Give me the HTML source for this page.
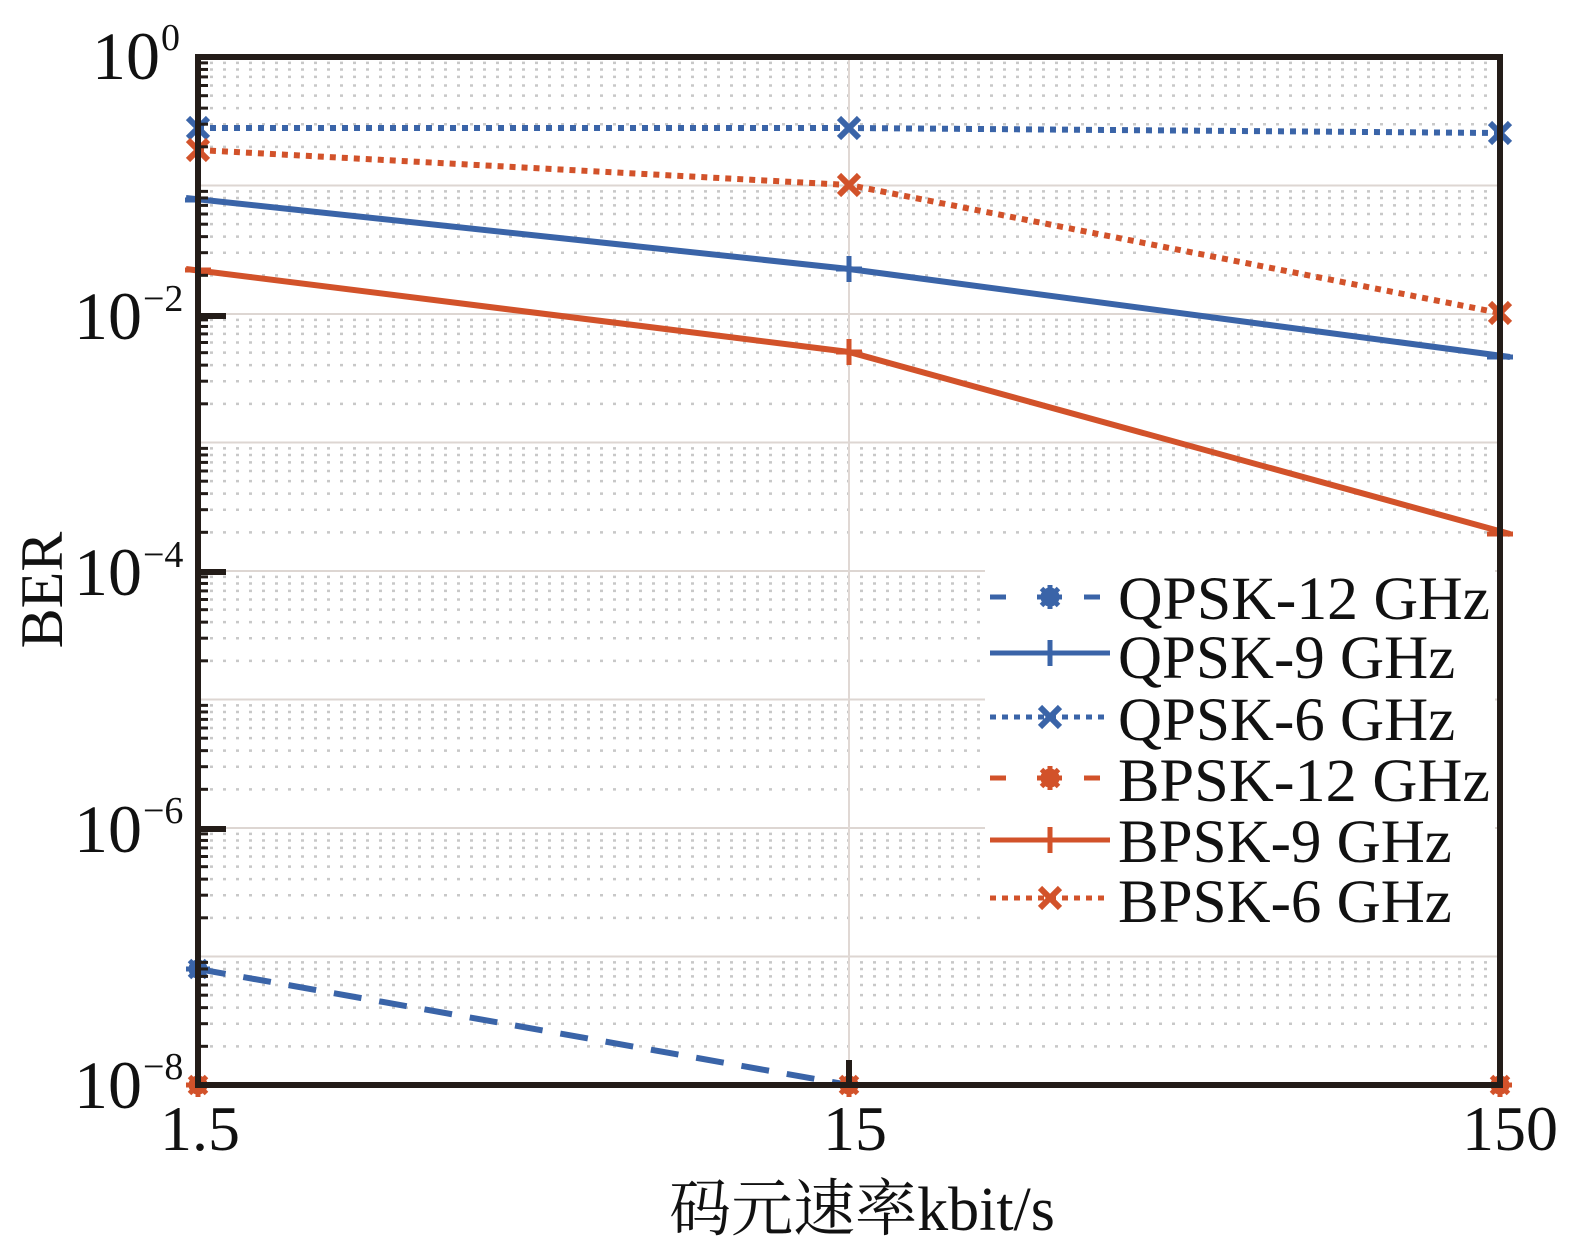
<!DOCTYPE html>
<html><head><meta charset="utf-8"><style>
html,body{margin:0;padding:0;background:#fff}
svg{display:block}
text{font-family:"Liberation Serif","Noto Serif CJK SC",serif;fill:#111}
</style></head><body>
<svg id="s" width="1590" height="1256" viewBox="0 0 1590 1256" xmlns="http://www.w3.org/2000/svg">
<defs>
<g id="ast"><circle r="9"/><path d="M-12 0H12M0 -12V12M-8.5 -8.5L8.5 8.5M-8.5 8.5L8.5 -8.5" stroke-width="5"/></g>
<g id="plus"><path d="M-13 0H13M0 -13V13" stroke-width="5"/></g>
<g id="cross"><path d="M-10 -10L10 10M-10 10L10 -10" stroke-width="6"/></g>
</defs>
<g id="grid"></g>
<line x1="849" y1="57" x2="849" y2="1085" stroke="#e0d8d4" stroke-width="2"/>
<g fill="none" stroke-width="6" stroke-linecap="butt">
<polyline points="198,969 849,1085" stroke="#3a64a8" stroke-dasharray="28,18"/>
<polyline points="186,198 849,269 1510,357" stroke="#3a64a8"/>
<polyline points="198,128 849,128 1500,133" stroke="#3a64a8" stroke-dasharray="6,6"/>
<polyline points="186,269 849,352 1510,534" stroke="#d2522a"/>
<polyline points="198,150 849,185 1500,313" stroke="#d2522a" stroke-dasharray="6,6"/>
</g>
<g fill="#3a64a8" stroke="#3a64a8">
<use href="#ast" x="198" y="969"/>
<use href="#plus" x="198" y="200"/><use href="#plus" x="849" y="269"/><use href="#plus" x="1500" y="357"/>
<use href="#cross" x="198" y="128"/><use href="#cross" x="849" y="128"/><use href="#cross" x="1500" y="133"/>
</g>
<g fill="#d2522a" stroke="#d2522a">
<use href="#plus" x="198" y="270"/><use href="#plus" x="849" y="352"/><use href="#plus" x="1500" y="534"/>
<use href="#cross" x="198" y="150"/><use href="#cross" x="849" y="185"/><use href="#cross" x="1500" y="313"/>
<use href="#ast" x="198" y="1085"/><use href="#ast" x="849" y="1085"/><use href="#ast" x="1500" y="1085"/>
</g>
<rect x="198" y="57" width="1302" height="1028" fill="none" stroke="#231c18" stroke-width="6"/>
<g stroke="#231c18" stroke-width="6">
<line x1="198" y1="316" x2="226" y2="316"/><line x1="198" y1="572" x2="226" y2="572"/>
<line x1="198" y1="829" x2="226" y2="829"/><line x1="849" y1="1085" x2="849" y2="1060"/>
</g>
<g id="ticks" stroke="#231c18" stroke-width="3"></g>
<rect x="985" y="565" width="510" height="360" fill="#fff"/>
<g fill="none" stroke-width="5">
<line x1="990" y1="597" x2="1110" y2="597" stroke="#3a64a8" stroke-dasharray="16,31"/>
<line x1="990" y1="653" x2="1110" y2="653" stroke="#3a64a8"/>
<line x1="990" y1="717" x2="1110" y2="717" stroke="#3a64a8" stroke-dasharray="6,6"/>
<line x1="990" y1="778" x2="1110" y2="778" stroke="#d2522a" stroke-dasharray="16,31"/>
<line x1="990" y1="840" x2="1110" y2="840" stroke="#d2522a"/>
<line x1="990" y1="898" x2="1110" y2="898" stroke="#d2522a" stroke-dasharray="6,6"/>
</g>
<g fill="#3a64a8" stroke="#3a64a8"><use href="#ast" x="1050" y="597"/><use href="#plus" x="1050" y="653"/><use href="#cross" x="1050" y="717"/></g>
<g fill="#d2522a" stroke="#d2522a"><use href="#ast" x="1050" y="778"/><use href="#plus" x="1050" y="840"/><use href="#cross" x="1050" y="898"/></g>
<g font-size="61">
<text x="1118" y="619" textLength="372" lengthAdjust="spacingAndGlyphs">QPSK-12 GHz</text>
<text x="1118" y="678">QPSK-9 GHz</text>
<text x="1118" y="740">QPSK-6 GHz</text>
<text x="1118" y="801" textLength="372" lengthAdjust="spacingAndGlyphs">BPSK-12 GHz</text>
<text x="1118" y="862">BPSK-9 GHz</text>
<text x="1118" y="922">BPSK-6 GHz</text>
</g>
<g font-size="68" text-anchor="end">
<text x="160" y="79">10</text><text x="142" y="339">10</text><text x="142" y="595">10</text><text x="142" y="852">10</text><text x="142" y="1108">10</text>
</g>
<g font-size="38">
<text x="161" y="50">0</text><text x="143" y="311">−2</text><text x="143" y="567">−4</text><text x="143" y="823">−6</text><text x="143" y="1079">−8</text>
</g>
<g font-size="64" text-anchor="middle">
<text x="200" y="1150">1.5</text><text x="855" y="1150">15</text><text x="1510" y="1150">150</text>
</g>
<text x="862" y="1230" font-size="62" text-anchor="middle">码元速率kbit/s</text>
<text transform="translate(62,590) rotate(-90)" font-size="60" text-anchor="middle">BER</text>
</svg>
<script>
var g=document.getElementById('grid'),t=document.getElementById('ticks'),h='',tk='';
for(var d=0;d<8;d++){
 var base=57+128.5*(d+1);
 if(d>0)h+='<line x1="198" x2="1500" y1="'+(57+128.5*d)+'" y2="'+(57+128.5*d)+'" stroke="#ddd6d2" stroke-width="2"/>';
 for(var m=2;m<=9;m++){var y=base-128.5*Math.log10(m);
  h+='<line x1="210" x2="1500" y1="'+y+'" y2="'+y+'" stroke="#c8c8c8" stroke-width="2.5" stroke-dasharray="3,10"/>';
  tk+='<line x1="198" x2="208" y1="'+y+'" y2="'+y+'"/>';}
}
g.innerHTML=h;t.innerHTML=tk;
</script>
</body></html>
